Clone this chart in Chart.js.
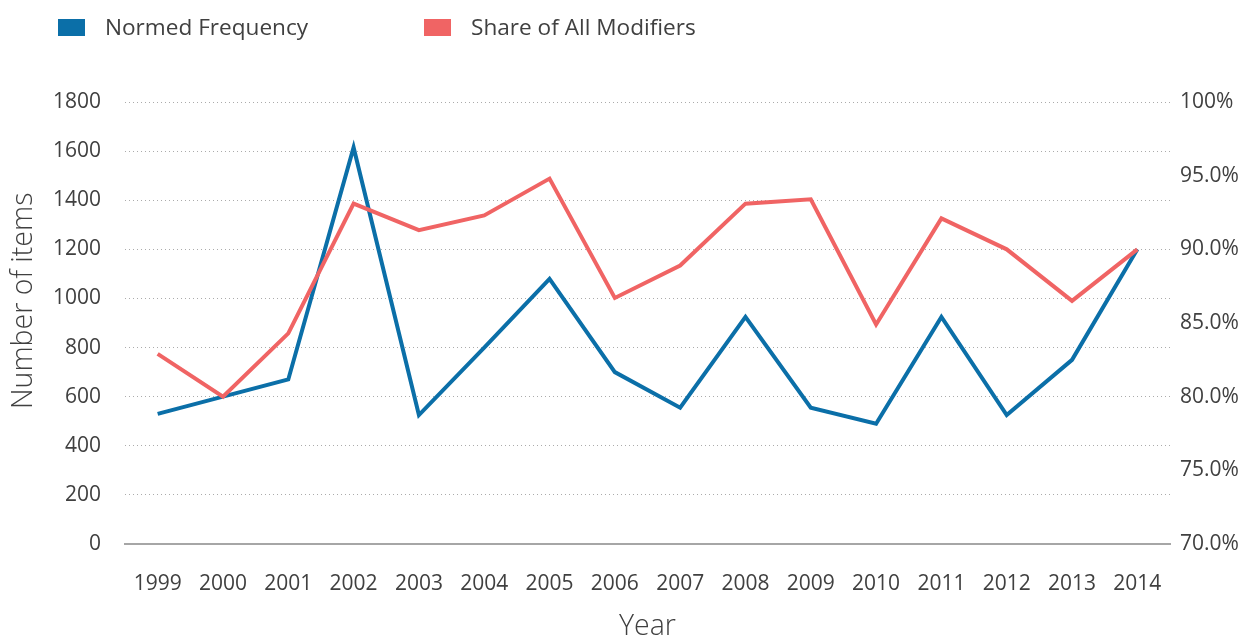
<!DOCTYPE html>
<html>
<head>
<meta charset="utf-8">
<script src="https://cdn.jsdelivr.net/npm/chart.js@4.4.0/dist/chart.umd.min.js"></script>
<style>
  body { margin: 0; background: #fff; }
  #wrap { position: relative; width: 1242px; height: 635px; }
  .lg-box { position: absolute; top: 19px; width: 27px; height: 17px; }
  .lg-text { position: absolute; top: 12px; font: 22.6px "Open Sans", sans-serif; color: #404040; line-height: 30px; }
</style>
</head>
<body>
<div id="wrap">
  <canvas id="chart" width="1242" height="635"></canvas>
  <div class="lg-box" style="left:58px;background:#0b6fa8"></div>
  <div class="lg-text" style="left:105px">Normed Frequency</div>
  <div class="lg-box" style="left:424px;background:#f06464"></div>
  <div class="lg-text" style="left:471px">Share of All Modifiers</div>
</div>
<script>
const years = ["1999", "2000", "2001", "2002", "2003", "2004", "2005", "2006",
  "2007", "2008", "2009", "2010", "2011", "2012", "2013", "2014"];
const normedFreq = [530, 600, 670, 1615, 525, 800, 1080, 700, 555, 925, 555, 490, 925, 525, 750, 1200];
const shareModifiers = [82.9, 80.0, 84.3, 93.1, 91.3, 92.3, 94.8, 86.7, 88.9, 93.1, 93.4, 84.9, 92.1, 90.0, 86.5, 90.0];

const textColor = "#404040";
const tickFont = { family: "'Open Sans', sans-serif", size: 21 };
const titleFont = { family: "'Open Sans', sans-serif", size: 28.5, weight: 300, lineHeight: 1 };

new Chart(document.getElementById("chart"), {
  type: "line",
  data: {
    labels: years,
    datasets: [
      {
        label: "Normed Frequency", data: normedFreq, yAxisID: "y",
        borderColor: "#0b6fa8", borderWidth: 4, pointRadius: 0,
        borderJoinStyle: "miter", tension: 0, order: 1
      },
      {
        label: "Share of All Modifiers", data: shareModifiers, yAxisID: "y1",
        borderColor: "#f06464", borderWidth: 4, pointRadius: 0,
        borderJoinStyle: "miter", tension: 0, order: 0
      }
    ]
  },
  options: {
    responsive: false,
    animation: false,
    devicePixelRatio: 1,
    layout: { padding: { top: 102, left: 0, right: 0, bottom: 0 } },
    plugins: { legend: { display: false }, tooltip: { enabled: false } },
    scales: {
      x: {
        offset: true,
        grid: { display: false, drawTicks: false },
        border: { display: true, color: "#a6a6a6", width: 2 },
        ticks: { font: tickFont, color: textColor, padding: 27, maxRotation: 0 },
        title: {
          display: true, text: "Year", color: textColor,
          font: { ...titleFont, lineHeight: 0.6 }, padding: { top: 0, bottom: 0 }
        },
        afterFit: s => { s.height = 91; }
      },
      y: {
        position: "left",
        min: 0, max: 1800,
        ticks: { stepSize: 200, font: tickFont, color: textColor, padding: 24, callback: v => String(v) },
        grid: { color: "#ababab", lineWidth: 1, drawTicks: false },
        border: { display: false, dash: [1, 3] },
        title: {
          display: true,
          text: "\u00a0\u00a0\u00a0\u00a0\u00a0\u00a0Number of items",
          font: titleFont, color: textColor, padding: { top: 10, bottom: 0 }
        },
        afterFit: s => { s.width = 125; }
      },
      y1: {
        position: "right",
        min: 70, max: 100,
        ticks: {
          stepSize: 5, font: tickFont, color: textColor, padding: 10,
          callback: v => v === 100 ? "100%" : v.toFixed(1) + "%"
        },
        grid: { display: false, drawTicks: false },
        border: { display: false },
        afterFit: s => { s.width = 72; }
      }
    }
  }
});
</script>
</body>
</html>
